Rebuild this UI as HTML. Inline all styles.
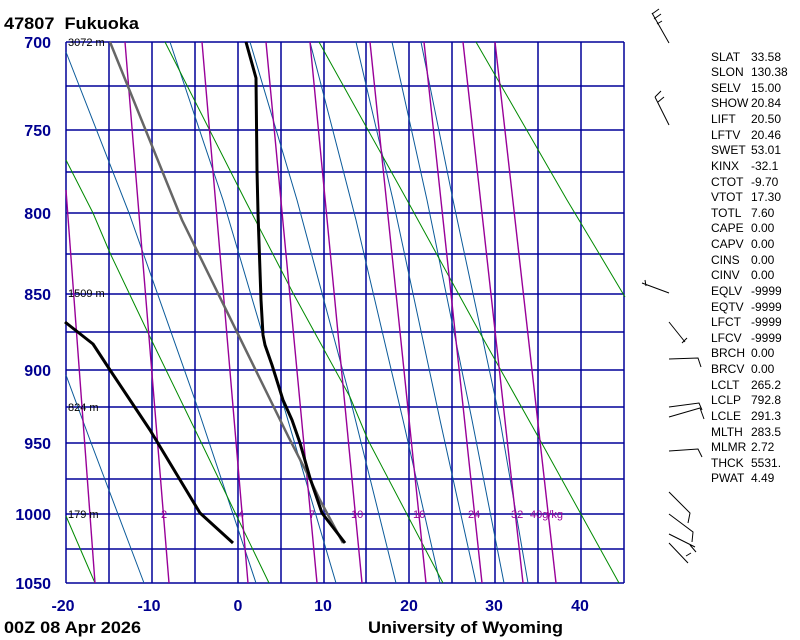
<!DOCTYPE html>
<html><head><meta charset="utf-8"><style>
html,body{margin:0;padding:0;background:#fff;}
svg{display:block;}
</style></head><body>
<svg width="800" height="640" viewBox="0 0 800 640" xmlns="http://www.w3.org/2000/svg" font-family="Liberation Sans, Arial, sans-serif">
<rect width="800" height="640" fill="#fff"/>
<!-- grid -->
<g stroke="#000099" stroke-width="1.5" fill="none">
<path d="M66,42H624M66,86H624M66,130H624M66,172H624M66,213H624M66,254H624M66,294H624M66,332H624M66,370H624M66,407H624M66,443H624M66,479H624M66,514H624M66,549H624M66,583H624"/>
<path d="M66,42V583M109,42V583M152,42V583M195,42V583M238,42V583M281,42V583M324,42V583M366,42V583M409,42V583M452,42V583M495,42V583M538,42V583M581,42V583M624,42V583"/>
</g>
<!-- dry adiabats -->
<g stroke="#0b5a9a" stroke-width="1" fill="none">
<polyline points="66,52 129,213 195,400 256,583"/>
<polyline points="66,375 90,440 144,583"/>
<polyline points="170,42 223,200 282,400 336,583"/>
<polyline points="250,42 297,200 348,390 396,583"/>
<polyline points="310,42 356,220 403,420 440,583"/>
<polyline points="356,42 393,200 440,420 476,583"/>
<polyline points="392,42 427,200 472,420 504,583"/>
<polyline points="421,42 453,200 500,420 528,583"/>
</g>
<!-- moist adiabats -->
<g stroke="#008a00" stroke-width="1" fill="none">
<polyline points="66,516 95,583"/>
<polyline points="66,160 93,213 110,253 150,337 200,440 269,583"/>
<polyline points="165,42 245,200 293,293 350,397 368,440 443,583"/>
<polyline points="319,42 407,200 480,333 540,440 619,583"/>
<polyline points="476,42 567,200 597,250 625,297"/>
</g>
<!-- mixing ratio -->
<g stroke="#990099" stroke-width="1.4" fill="none">
<line x1="66" y1="190" x2="95" y2="583"/>
<line x1="125" y1="42" x2="169" y2="583"/>
<line x1="202" y1="42" x2="248" y2="583"/>
<line x1="266" y1="42" x2="317" y2="583"/>
<line x1="310" y1="42" x2="362" y2="583"/>
<line x1="370" y1="42" x2="426" y2="583"/>
<line x1="424" y1="42" x2="482" y2="583"/>
<line x1="463" y1="42" x2="523" y2="583"/>
<line x1="495" y1="42" x2="556" y2="583"/>
</g>
<g fill="#990099" font-size="11">
<text x="161" y="518">2</text><text x="238" y="518">4</text><text x="309" y="518">7</text>
<text x="351" y="518">10</text><text x="413" y="518">16</text><text x="468" y="518">24</text>
<text x="511" y="518">32</text><text x="530" y="518">40g/kg</text>
</g>
<!-- height labels -->
<g fill="#000" font-size="11">
<text x="68" y="46">3072 m</text><text x="68" y="297">1509 m</text>
<text x="68" y="411">824 m</text><text x="68" y="518">179 m</text>
</g>
<!-- profiles -->
<polyline points="110,42 182,220 289,438 307,473 320,500 343,543" stroke="#666" stroke-width="2.5" fill="none"/>
<polyline points="246,42 256,78 257,170 258,213 261,300 263,335 265,345 272,365 283,400 292,420 300,443 310,478 322,513 345,543" stroke="#000" stroke-width="3" fill="none" stroke-linejoin="round"/>
<polyline points="65,322 93,344 110,370 150,430 200,513 233,543" stroke="#000" stroke-width="3" fill="none" stroke-linejoin="round"/>
<!-- axis labels -->
<g fill="#000090" font-size="16" font-weight="bold" text-anchor="end">
<text x="51" y="48">700</text><text x="51" y="136">750</text><text x="51" y="219">800</text>
<text x="51" y="300">850</text><text x="51" y="376">900</text><text x="51" y="449">950</text>
<text x="51" y="520">1000</text><text x="51" y="589">1050</text>
</g>
<g fill="#000090" font-size="16" font-weight="bold" text-anchor="middle">
<text x="63" y="611">-20</text><text x="149" y="611">-10</text><text x="238" y="611">0</text>
<text x="323" y="611">10</text><text x="409" y="611">20</text><text x="494" y="611">30</text><text x="580" y="611">40</text>
</g>
<g fill="#000" font-size="17" font-weight="bold">
<text x="4" y="29" textLength="135" lengthAdjust="spacingAndGlyphs">47807&#160;&#160;Fukuoka</text>
<text x="4" y="633" textLength="137" lengthAdjust="spacingAndGlyphs">00Z 08 Apr 2026</text>
<text x="368" y="633" textLength="195" lengthAdjust="spacingAndGlyphs">University of Wyoming</text>
</g>
<!-- indices -->
<g fill="#000" font-size="12">
<text x="711" y="61">SLAT</text><text x="751" y="61">33.58</text>
<text x="711" y="76">SLON</text><text x="751" y="76">130.38</text>
<text x="711" y="92">SELV</text><text x="751" y="92">15.00</text>
<text x="711" y="107">SHOW</text><text x="751" y="107">20.84</text>
<text x="711" y="123">LIFT</text><text x="751" y="123">20.50</text>
<text x="711" y="139">LFTV</text><text x="751" y="139">20.46</text>
<text x="711" y="154">SWET</text><text x="751" y="154">53.01</text>
<text x="711" y="170">KINX</text><text x="751" y="170">-32.1</text>
<text x="711" y="186">CTOT</text><text x="751" y="186">-9.70</text>
<text x="711" y="201">VTOT</text><text x="751" y="201">17.30</text>
<text x="711" y="217">TOTL</text><text x="751" y="217">7.60</text>
<text x="711" y="232">CAPE</text><text x="751" y="232">0.00</text>
<text x="711" y="248">CAPV</text><text x="751" y="248">0.00</text>
<text x="711" y="264">CINS</text><text x="751" y="264">0.00</text>
<text x="711" y="279">CINV</text><text x="751" y="279">0.00</text>
<text x="711" y="295">EQLV</text><text x="751" y="295">-9999</text>
<text x="711" y="311">EQTV</text><text x="751" y="311">-9999</text>
<text x="711" y="326">LFCT</text><text x="751" y="326">-9999</text>
<text x="711" y="342">LFCV</text><text x="751" y="342">-9999</text>
<text x="711" y="357">BRCH</text><text x="751" y="357">0.00</text>
<text x="711" y="373">BRCV</text><text x="751" y="373">0.00</text>
<text x="711" y="389">LCLT</text><text x="751" y="389">265.2</text>
<text x="711" y="404">LCLP</text><text x="751" y="404">792.8</text>
<text x="711" y="420">LCLE</text><text x="751" y="420">291.3</text>
<text x="711" y="436">MLTH</text><text x="751" y="436">283.5</text>
<text x="711" y="451">MLMR</text><text x="751" y="451">2.72</text>
<text x="711" y="467">THCK</text><text x="751" y="467">5531.</text>
<text x="711" y="482">PWAT</text><text x="751" y="482">4.49</text>
</g>
<!-- wind barbs -->
<g stroke="#000" stroke-width="1" fill="none">
<path d="M652,13L669,43M652,14L659,9M654,19L661,14M657,24L662,21"/>
<path d="M655,97L669,125M655,97L661,91M658,102L664,97"/>
<path d="M642,283L669,293M645,280L646,286"/>
<path d="M669,322L685,342M682,343L687,338"/>
<path d="M669,359L698,358L701,367"/>
<path d="M669,407L699,403L702,410"/>
<path d="M669,417L700,408L704,419"/>
<path d="M669,451L698,449L702,457"/>
<path d="M669,492L690,513L688,523"/>
<path d="M669,514L693,532L692,542"/>
<path d="M669,534L695,547M690,545L696,552"/>
<path d="M669,543L688,563M686,556L691,553"/>
</g>
</svg>
</body></html>
